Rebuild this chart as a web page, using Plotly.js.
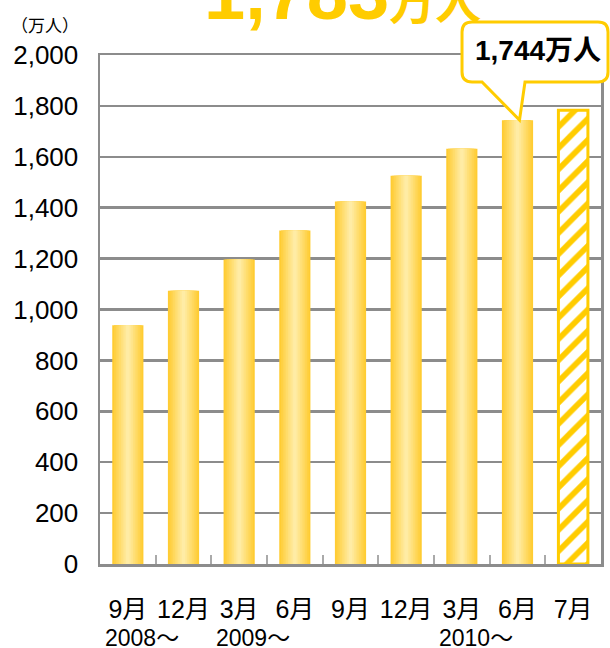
<!DOCTYPE html>
<html>
<head>
<meta charset="utf-8">
<script src="https://cdn.plot.ly/plotly-3.0.1.min.js"></script>
<style>
  html, body { margin: 0; padding: 0; background: #fff; }
  #chart { width: 610px; height: 648px; }
</style>
</head>
<body>
<div id="chart"></div>
<script>
// members (万人) per quarter, last bar is the latest month
const monthLabels = ['9月', '12月', '3月', '6月', '9月', '12月', '3月', '6月', '7月'];
const members = [938, 1074, 1196, 1310, 1424, 1526, 1632, 1744, 1783];
const yearLabels = ['2008～', '2009～', '2010～'];
const yearAt = [0, 2, 6];
const calloutAt = 7;
const headline = '1,783';

const gold = '#FFCC00';
const frame = '#8c8c8c';
const font = 'Liberation Sans, Arial, Noto Sans CJK JP, sans-serif';
const cjk = 'Noto Sans CJK JP, sans-serif';
const barWidth = 0.56;

const xIdx = monthLabels.map((_, i) => i);
const pastX = xIdx.slice(0, -1);
const pastY = members.slice(0, -1);
const lastX = xIdx.slice(-1);
const lastY = members.slice(-1);

// fake horizontal gradient: stack narrower, lighter bars on top of each other
const edge = [255, 204, 51], mid = [255, 236, 165];
const layers = 9;
const traces = [];
for (let k = 0; k < layers; k++) {
    const t = k / (layers - 1);
    const c = edge.map((v, j) => Math.round(v + (mid[j] - v) * t));
    traces.push({
        type: 'bar',
        x: pastX,
        y: pastY,
        width: pastX.map(() => barWidth * (1 - k / layers)),
        marker: { color: `rgb(${c.join(',')})`, line: { width: 0 } },
        hoverinfo: 'skip'
    });
}

// latest month, hatched
traces.push({
    type: 'bar',
    x: lastX,
    y: lastY,
    width: [barWidth - 0.03],
    marker: {
        color: 'white',
        line: { color: gold, width: 3 },
        pattern: { shape: '/', fgcolor: gold, bgcolor: 'white', size: 15, solidity: 0.38 }
    },
    hoverinfo: 'skip'
});

// speech bubble around the 1,744 label (paper coords)
const nCat = monthLabels.length;
const bx0 = 0.7226, bx1 = 1.014, by0 = 0.947, by1 = 1.0648;
const rx = 0.02, ry = 0.0196;
const tailA = 0.7625, tailB = 0.8483;
const tipX = (calloutAt + 0.5) / nCat + 0.004;
const tipY = members[calloutAt] / 2000;
const bubble = [
    `M ${bx0 + rx},${by1}`, `L ${bx1 - rx},${by1}`, `Q ${bx1},${by1} ${bx1},${by1 - ry}`,
    `L ${bx1},${by0 + ry}`, `Q ${bx1},${by0} ${bx1 - rx},${by0}`,
    `L ${tailB},${by0}`, `L ${tipX},${tipY}`, `L ${tailA},${by0}`,
    `L ${bx0 + rx},${by0}`, `Q ${bx0},${by0} ${bx0},${by0 + ry}`,
    `L ${bx0},${by1 - ry}`, `Q ${bx0},${by1} ${bx0 + rx},${by1}`, 'Z'
].join(' ');

const annotations = [
    {
        xref: 'paper', yref: 'paper', x: -0.11, y: 1.059,
        xanchor: 'center', yanchor: 'middle',
        text: '（万人）', showarrow: false,
        font: { family: cjk, size: 17, color: '#000' }
    },
    {
        xref: 'paper', yref: 'paper', x: 0.485, y: 1.035,
        xanchor: 'center', yanchor: 'bottom',
        text: `<b>${headline}<span style="font-size:46px">万人</span></b>`,
        showarrow: false,
        font: { family: font, size: 74, color: gold }
    },
    {
        xref: 'paper', yref: 'paper', x: (bx0 + bx1) / 2 + 0.006, y: (by0 + by1) / 2 + 0.002,
        xanchor: 'center', yanchor: 'middle',
        text: `<b>${members[calloutAt].toLocaleString('en-US')}万人</b>`,
        showarrow: false,
        font: { family: font, size: 28, color: '#000' }
    }
];
yearLabels.forEach((txt, i) => {
    annotations.push({
        xref: 'x', yref: 'paper', x: yearAt[i] + 0.25, y: -0.146,
        xanchor: 'center', yanchor: 'middle',
        text: txt, showarrow: false,
        font: { family: font, size: 23, color: '#000' }
    });
});

const layout = {
    width: 610,
    height: 648,
    margin: { l: 100, r: 9, t: 55, b: 84 },
    paper_bgcolor: 'white',
    plot_bgcolor: 'white',
    barmode: 'overlay',
    showlegend: false,
    hovermode: false,
    font: { family: font, color: '#000' },
    xaxis: {
        range: [-0.5, nCat - 0.5],
        tickmode: 'array',
        tickvals: xIdx,
        ticktext: monthLabels,
        ticks: '',
        ticklabelstandoff: 21,
        tickfont: { family: font, size: 25, color: '#000' },
        showgrid: false,
        zeroline: false,
        showline: true,
        linecolor: frame,
        linewidth: 2.5,
        mirror: true,
        minor: {
            tickmode: 'array',
            tickvals: xIdx.slice(0, -1).map(i => i + 0.5),
            ticks: 'inside',
            ticklen: 9,
            tickwidth: 2,
            tickcolor: '#aaaaaa',
            showgrid: false
        }
    },
    yaxis: {
        range: [0, 2000],
        tickmode: 'linear',
        tick0: 0,
        dtick: 200,
        tickformat: ',d',
        ticks: '',
        ticklabelstandoff: 14,
        tickfont: { family: font, size: 26, color: '#000' },
        showgrid: true,
        gridcolor: frame,
        gridwidth: 2.5,
        zeroline: false,
        showline: true,
        linecolor: frame,
        linewidth: 2.5,
        mirror: true
    },
    shapes: [{
        type: 'path',
        xref: 'paper',
        yref: 'paper',
        path: bubble,
        fillcolor: 'white',
        line: { color: gold, width: 3 },
        layer: 'above'
    }],
    annotations: annotations
};

Plotly.newPlot('chart', traces, layout, { displayModeBar: false, staticPlot: true });
</script>
</body>
</html>
